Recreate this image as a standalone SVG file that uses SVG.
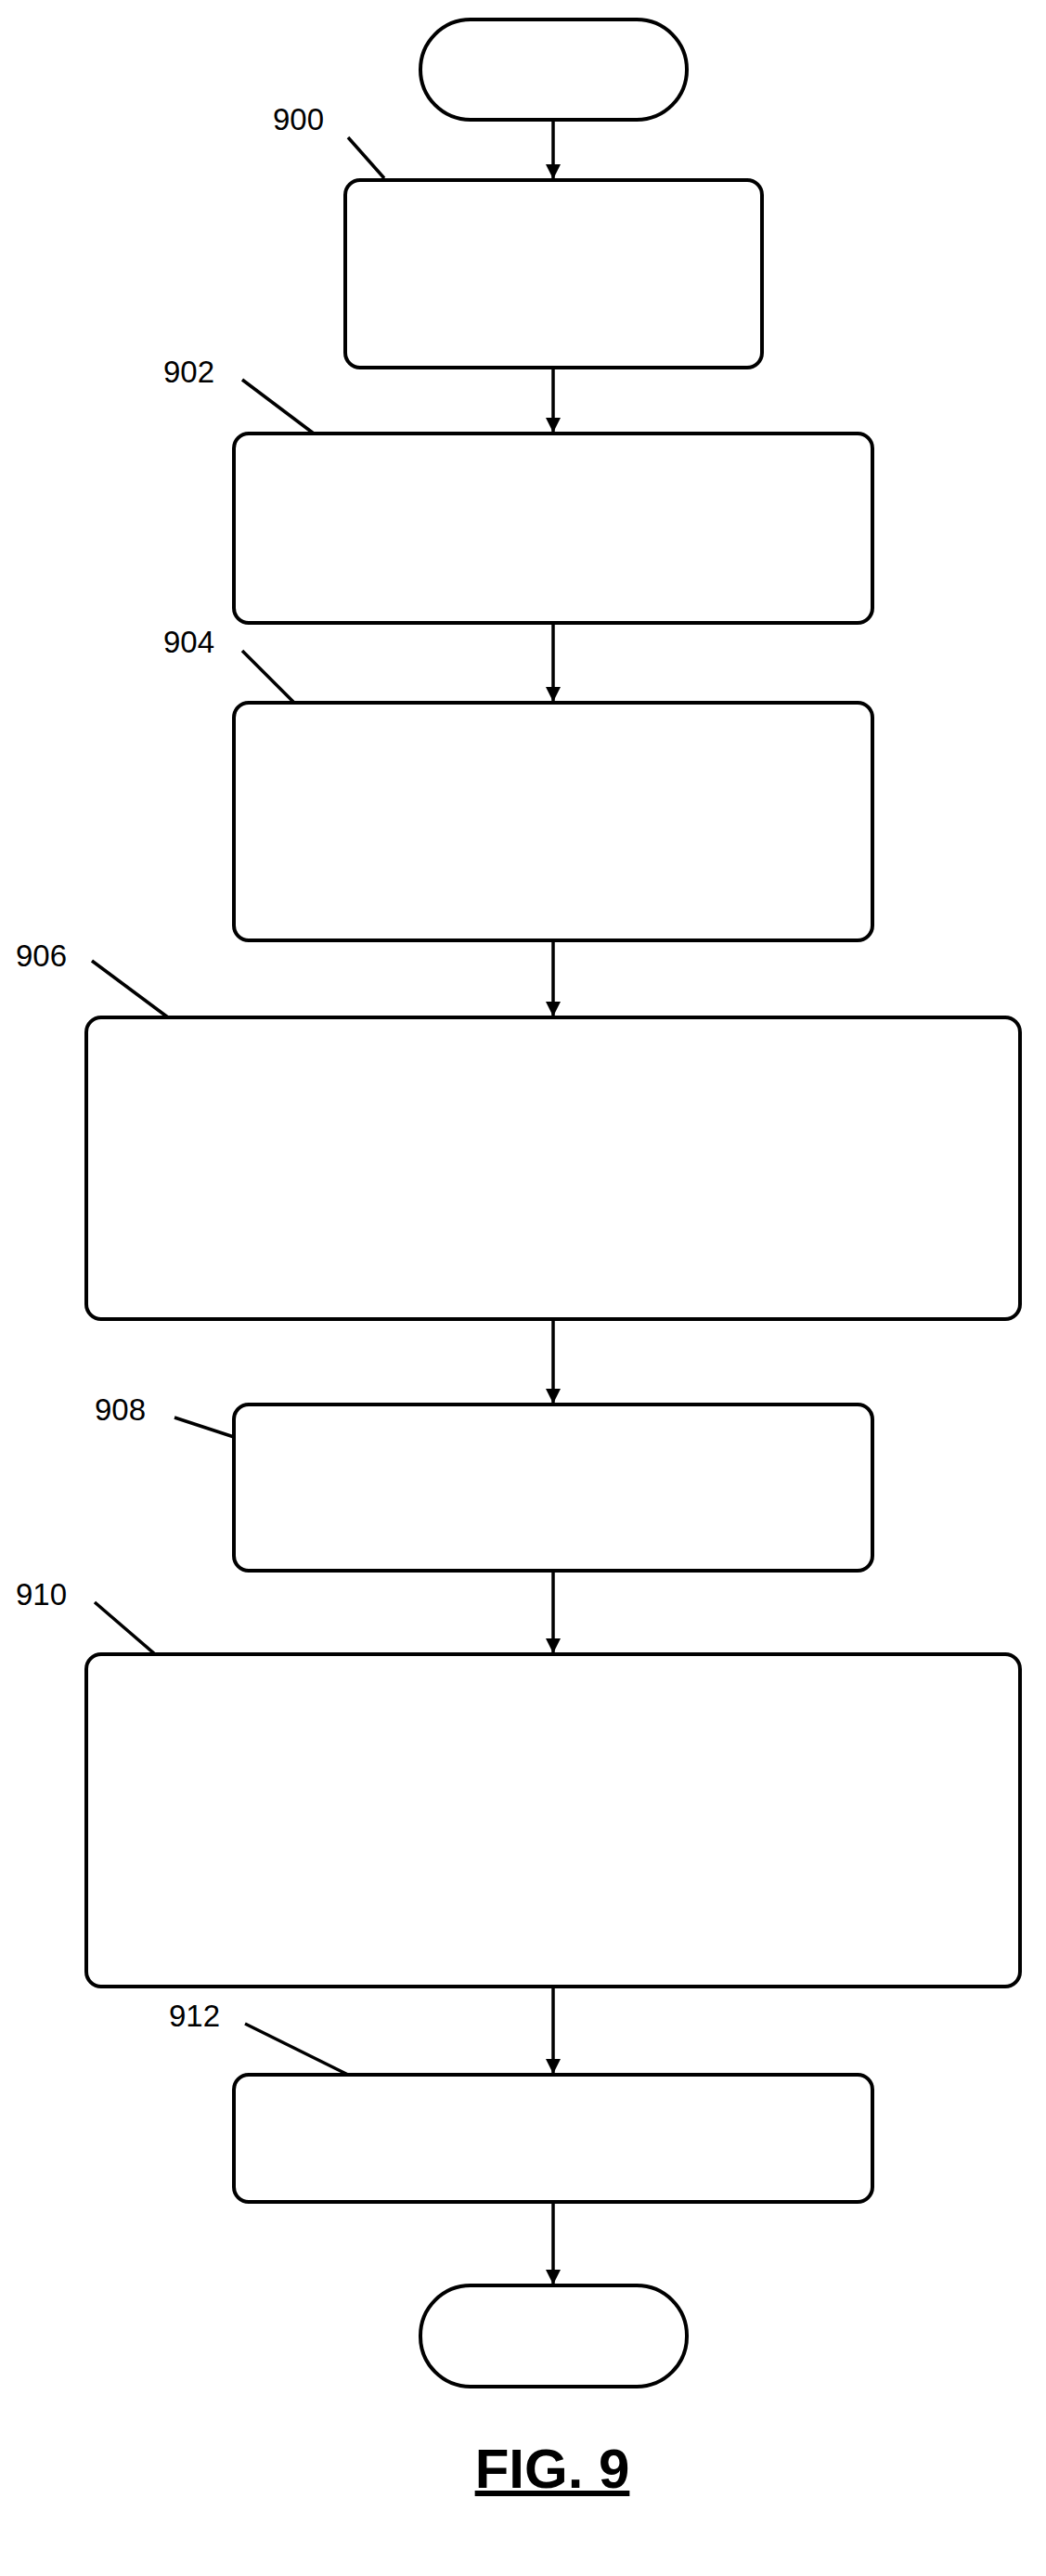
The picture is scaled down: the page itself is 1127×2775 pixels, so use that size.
<svg xmlns="http://www.w3.org/2000/svg" width="1127" height="2775" viewBox="0 0 1127 2775">
<style>
.b{fill:#fff;stroke:#000;stroke-width:4}
.c{stroke:#000;stroke-width:3.5;fill:none}
.l{font-family:"Liberation Sans",Arial,sans-serif;font-size:33px;fill:#000}
</style>
<defs><marker id="a" markerWidth="16" markerHeight="18" refX="15" refY="8" orient="auto" markerUnits="userSpaceOnUse" viewBox="0 0 16 16"><path d="M0,0 L16,8 L0,16 z"/></marker></defs>
<rect width="1127" height="2775" fill="#fff"/>
<g id="start"><rect class="b" x="453" y="21" width="287" height="108" rx="54"/></g>
<g id="n900"><rect class="b" x="372" y="194" width="449" height="202" rx="16"/><text class="l" x="294" y="140">900</text></g>
<g id="n902"><rect class="b" x="252" y="467" width="688" height="204" rx="16"/><text class="l" x="176" y="412">902</text></g>
<g id="n904"><rect class="b" x="252" y="757" width="688" height="256" rx="16"/><text class="l" x="176" y="703">904</text></g>
<g id="n906"><rect class="b" x="93" y="1096" width="1006" height="325" rx="16"/><text class="l" x="17" y="1041">906</text></g>
<g id="n908"><rect class="b" x="252" y="1513" width="688" height="179" rx="16"/><text class="l" x="102" y="1530">908</text></g>
<g id="n910"><rect class="b" x="93" y="1782" width="1006" height="358" rx="16"/><text class="l" x="17" y="1729">910</text></g>
<g id="n912"><rect class="b" x="252" y="2235" width="688" height="137" rx="16"/><text class="l" x="182" y="2183">912</text></g>
<g id="end"><rect class="b" x="453" y="2462" width="287" height="109" rx="54"/></g>
<g id="connectors">
<path class="c" d="M596,129V192" marker-end="url(#a)"/>
<path class="c" d="M596,396V465" marker-end="url(#a)"/>
<path class="c" d="M596,671V755" marker-end="url(#a)"/>
<path class="c" d="M596,1013V1094" marker-end="url(#a)"/>
<path class="c" d="M596,1421V1511" marker-end="url(#a)"/>
<path class="c" d="M596,1692V1780" marker-end="url(#a)"/>
<path class="c" d="M596,2140V2233" marker-end="url(#a)"/>
<path class="c" d="M596,2372V2460" marker-end="url(#a)"/>
<path class="c" d="M375,148L414,192M261,409L338,467M261,701L317,757M99,1035L181,1096M188,1527L252,1548M102,1726L167,1782M264,2180L375,2235"/>
</g>
<text x="595" y="2680" text-anchor="middle" font-family="Liberation Sans,Arial,sans-serif" font-weight="bold" font-size="60" text-decoration="underline">FIG. 9</text>
</svg>
